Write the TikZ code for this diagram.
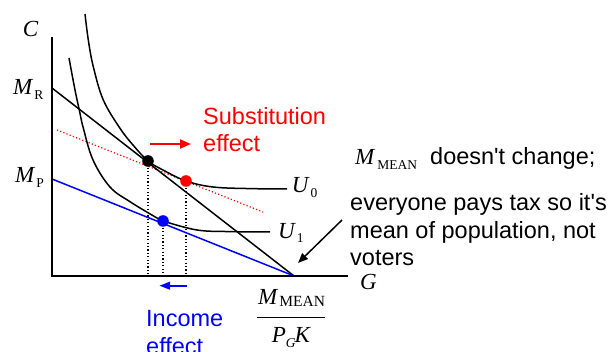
\documentclass[tikz,border=0pt]{standalone}
\usepackage{fontspec}
\setmainfont{Liberation Sans}
\newfontfamily\tms{Liberation Serif}
\usetikzlibrary{arrows.meta}
\newcommand\myvar[1]{{\fontsize{23}{23}\selectfont\tms\itshape #1}}
\newcommand\mysub[1]{{\fontsize{13.5}{13.5}\selectfont\tms #1}}
\newcommand\mysubb[1]{{\fontsize{15.5}{15.5}\selectfont\tms #1}}
\begin{document}
\begin{tikzpicture}[x=1pt,y=-1pt,
  lbl/.style={inner sep=0pt, anchor=base west},
  sanstext/.style={lbl, font=\fontsize{23.5}{27.5}\selectfont},
  axisline/.style={line width=1.6pt},
  curve/.style={line width=1.5pt},
  vdot/.style={line width=1.2pt, dash pattern=on 1.2pt off 2.2pt},
  reddot/.style={red, line width=1.2pt, dash pattern=on 1.2pt off 2.2pt},
  dotmark/.style={circle, inner sep=0pt, minimum size=11.6pt},
  effarrow/.style={line width=2pt, -{Triangle[length=11pt,width=9pt]}}
]
\useasboundingbox (0,0) rectangle (616,352);

% coordinates
\coordinate (O) at (52,276);
\coordinate (ytop) at (52,37);
\coordinate (xend) at (348,276);
\coordinate (MR) at (52,88);
\coordinate (MP) at (52,179);
\coordinate (X) at (294,276);
\coordinate (rdA) at (57,130);
\coordinate (rdB) at (263,212);

% dot nodes (filled later)
\path (148,161) node[dotmark] (d0) {};
\path (186,181) node[dotmark] (d1) {};
\path (163,221) node[dotmark] (d2) {};

% dotted verticals
\draw[vdot] (d0.center) -- (d0.center |- O);
\draw[vdot] (d1.center) -- (d1.center |- O);
\draw[vdot] (d2.center) -- (d2.center |- O);

% red dotted line
\draw[reddot] (rdA) -- (rdB);

% budget lines
\draw[line width=1.5pt] (MR) -- (X);
\draw[blue, line width=1.5pt] (MP) -- (X);

% axes
\draw[axisline] (ytop) -- (O) -- (xend);

% indifference curves
\draw[curve] plot[smooth, tension=0.6] coordinates {(85,14) (88.3,40) (93.3,66.7) (103.3,100) (120,128.3) (133,145) (148,161) (163,170) (186,181) (213,187) (250,188.6) (287,189)};
\draw[curve] plot[smooth, tension=0.6] coordinates {(69,58) (75,90) (79.3,110) (83.3,128) (93,160) (110,187) (130,201.7) (157,218) (163,221) (197,230) (230,231.6) (270,232)};

% dots
\fill[black] (d0.center) circle (5.8pt);
\fill[red] (d1.center) circle (5.8pt);
\fill[blue] (d2.center) circle (5.8pt);

% axis labels
\node[lbl] (lC) at (22.7,36.7) {\myvar{C}};
\node[lbl] (lMR) at (13,95) {\myvar{M}\kern2pt\raisebox{-5pt}{\mysub{R}}};
\node[lbl] (lMP) at (15,183) {\myvar{M}\kern2pt\raisebox{-5pt}{\mysub{P}}};
\node[lbl] (lU0) at (291.7,193) {\myvar{U}\kern2pt\raisebox{-5pt}{\mysub{0}}};
\node[lbl] (lU1) at (278,239) {\myvar{U}\kern2pt\raisebox{-4pt}{\mysub{1}}};
\node[lbl] (lG) at (360,290) {\myvar{G}};

% fraction
\node[lbl] (fnum) at (258,305) {\myvar{M}\kern2pt\raisebox{-2pt}{\mysubb{MEAN}}};
\draw[line width=1.2pt] (256.7,317.7) -- (325,317.7);
\node[lbl] (fden) at (271.7,342.7) {\myvar{P}\raisebox{-5pt}{\mysub{\itshape G}}\kern-1pt\myvar{K}};

% effects
\node[sanstext, red, align=left] (subst) at (203,151.7) {Substitution\\effect};
\draw[effarrow, red] (150,144) coordinate (ra) -- (191,144) coordinate (rb);
\node[sanstext, blue, align=left] (inc) at (146,354.2) {Income\\effect};
\draw[blue, line width=2pt, -{Triangle[length=10.7pt,width=7.5pt]}] (187.3,285.7) coordinate (ba) -- (159.3,285.7) coordinate (bb);

% annotation
\node[lbl] (mm) at (355,165) {\myvar{M}\kern3pt\raisebox{-5pt}{\mysub{MEAN}}};
\node[sanstext] (dc) at (430,165) {doesn\textquotesingle t change;};
\node[sanstext, align=left] (note) at (350,266) {everyone pays tax so it\textquotesingle s\\mean of population, not\\voters};
\coordinate (arS) at (342,220);
\coordinate (arE) at (298,263);
\draw[line width=1.5pt, -{Triangle[length=10pt,width=8pt]}] (arS) -- (arE);
\end{tikzpicture}
\end{document}
